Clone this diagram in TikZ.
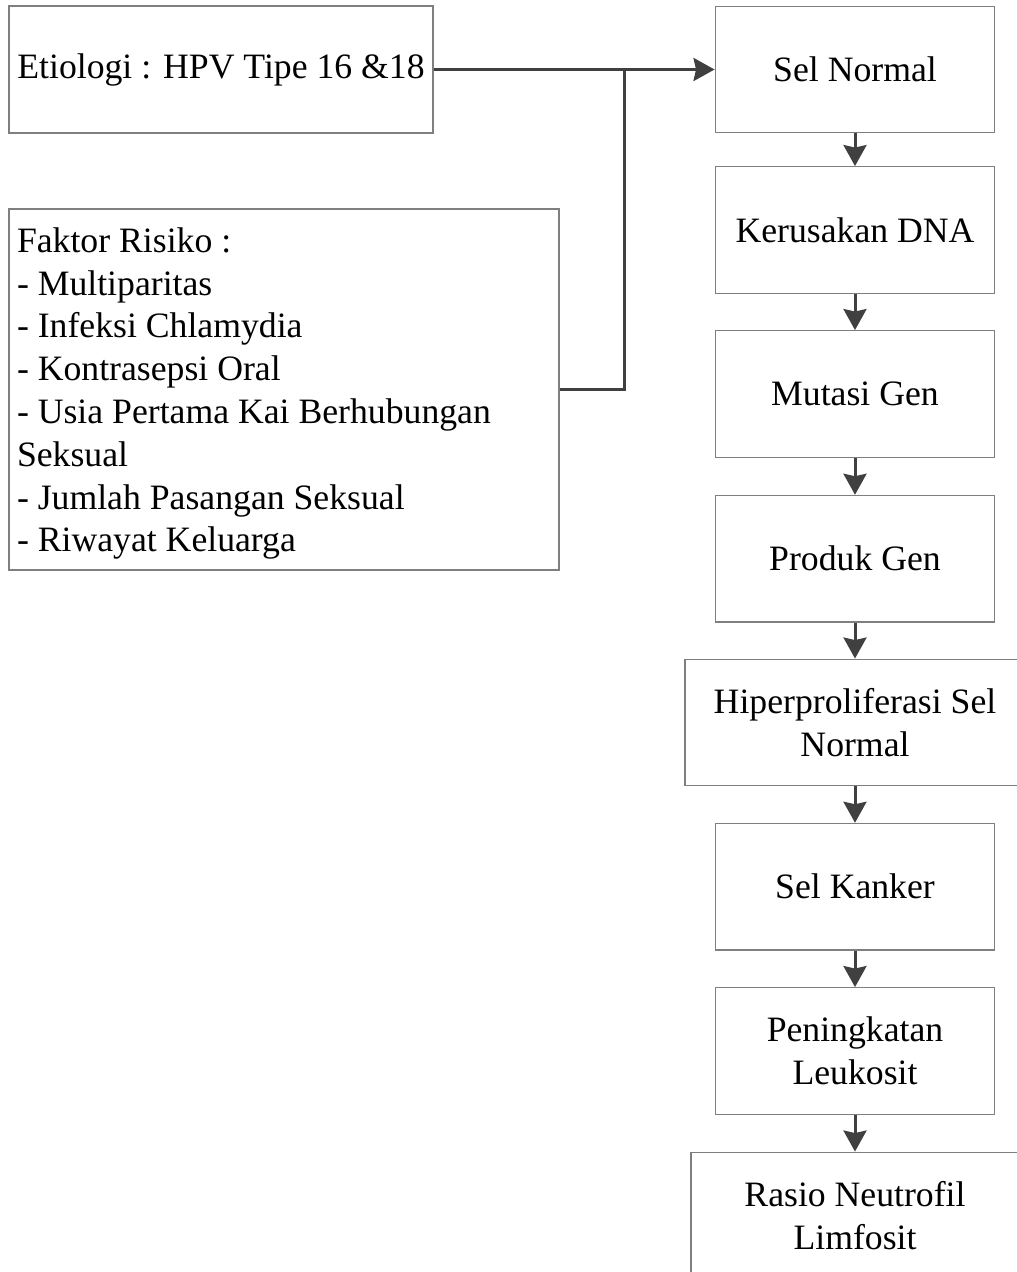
\documentclass[tikz,border=0pt]{standalone}
\usepackage{fontspec}
\setmainfont{Liberation Serif}
\usetikzlibrary{arrows.meta}
\definecolor{boxline}{HTML}{7F7F7F}
\definecolor{arrline}{HTML}{404040}
\tikzset{
  box/.style={draw=boxline, line width=1.4pt, inner sep=0pt, font=\fontsize{35.7pt}{42.8pt}\selectfont, align=center},
  colbox/.style={box, minimum width=279.5pt, minimum height=126.5pt},
  flow/.style={draw=arrline, line width=3pt, -{Stealth[length=21pt,width=23pt,inset=2.5pt]}},
  link/.style={draw=arrline, line width=3pt}
}
\begin{document}
\begin{tikzpicture}[x=1pt,y=-1pt]
\useasboundingbox (0,0) rectangle (1017,1272);
\clip (0,0) rectangle (1017,1272);
\node[box, minimum width=424pt, minimum height=127pt] (eti) at (221,69.5) {Etiologi : HPV Tipe 16 \&18};
\node[box, minimum width=550pt, minimum height=361pt, text width=534pt, align=flush left] (fak) at (284,389.5) {\rule{0pt}{33pt}Faktor Risiko :\\- Multiparitas\\- Infeksi Chlamydia\\- Kontrasepsi Oral\\- Usia Pertama Kai Berhubungan\\Seksual\\- Jumlah Pasangan Seksual\\- Riwayat Keluarga};
\node[colbox] (n1) at (855,69.5) {Sel Normal};
\node[colbox] (n2) at (855,230) {Kerusakan DNA};
\node[colbox] (n3) at (855,394) {Mutasi Gen};
\node[colbox] (n4) at (855,558.7) {Produk Gen};
\node[colbox, minimum width=340pt] (n5) at (855,722.5) {Hiperproliferasi Sel\\Normal};
\node[colbox] (n6) at (855,886.7) {Sel Kanker};
\node[colbox] (n7) at (855,1051) {Peningkatan\\Leukosit};
\node[colbox, minimum width=328pt] (n8) at (855,1215.5) {Rasio Neutrofil\\Limfosit};
\coordinate (j) at (624,69.5);
\path[flow] (eti.east) -- (n1.west);
\path[link] (fak.east) -| (j);
\path[flow] (n1.south) -- (n2.north);
\path[flow] (n2.south) -- (n3.north);
\path[flow] (n3.south) -- (n4.north);
\path[flow] (n4.south) -- (n5.north);
\path[flow] (n5.south) -- (n6.north);
\path[flow] (n6.south) -- (n7.north);
\path[flow] (n7.south) -- (n8.north);
\end{tikzpicture}
\end{document}
